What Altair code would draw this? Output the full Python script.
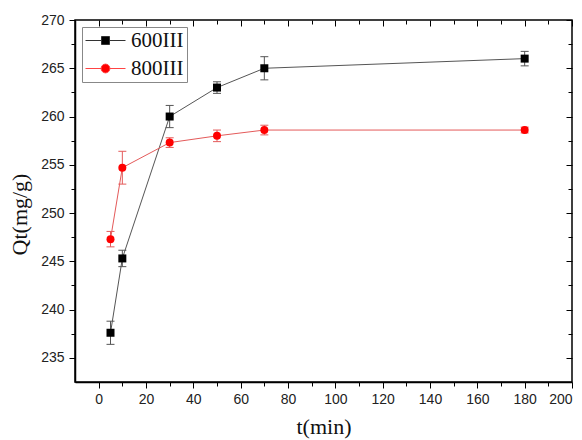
import altair as alt
import pandas as pd

series_names = ["600III", "800III"]
t_values = [5, 10, 30, 50, 70, 180]
qt_600 = [237.6, 245.3, 260.0, 263.0, 265.0, 266.0]
err_600 = [1.2, 0.85, 1.15, 0.6, 1.2, 0.75]
qt_800 = [247.3, 254.7, 257.3, 258.0, 258.6, 258.6]
err_800 = [0.8, 1.7, 0.5, 0.6, 0.5, 0.3]

x_major = [0, 20, 40, 60, 80, 100, 120, 140, 160, 180, 200]
x_minor = [10, 30, 50, 70, 90, 110, 130, 150, 170, 190]
y_major = [235, 240, 245, 250, 255, 260, 265, 270]
y_minor = [237.5, 242.5, 247.5, 252.5, 257.5, 262.5, 267.5]

rows = []
for name, qs, es in [(series_names[0], qt_600, err_600), (series_names[1], qt_800, err_800)]:
    for t, q, e in zip(t_values, qs, es):
        rows.append({"series": name, "t": t, "qt": q, "lo": q - e, "hi": q + e})
df = pd.DataFrame(rows)

xs = alt.Scale(domain=[-10, 200], nice=False, zero=False)
ys = alt.Scale(domain=[232.5, 270], nice=False, zero=False)
line_colors = alt.Scale(domain=series_names, range=["#555555", "#e45a5a"])
point_colors = alt.Scale(domain=series_names, range=["#000000", "#ff0000"])

sans = "Liberation Sans"
serif = "Liberation Serif"

def blank(orient, values, size, offset=0, domain=False):
    return alt.Axis(orient=orient, values=values, tickSize=size, offset=offset,
                    labels=False, title=None, domain=domain, grid=False,
                    tickColor="#000000", tickWidth=1)

base = alt.Chart(df)

lines = base.mark_line(strokeWidth=1).encode(
    x=alt.X("t:Q", scale=xs, axis=alt.Axis(orient="bottom", values=x_major, tickSize=6,
            grid=False, domainColor="#000000", domainWidth=1.5, tickColor="#000000",
            labelFont=sans, labelFontSize=14, labelColor="#222222", labelPadding=4,
            title="t(min)", titleFont=serif, titleFontSize=22, titleFontWeight="normal",
            titleColor="#111111", titlePadding=10)),
    y=alt.Y("qt:Q", scale=ys, axis=alt.Axis(orient="left", values=y_major, tickSize=6,
            grid=False, domainColor="#000000", domainWidth=1.5, tickColor="#000000",
            labelFont=sans, labelFontSize=14, labelColor="#222222", labelPadding=5,
            title="Qt(mg/g)", titleFont=serif, titleFontSize=22, titleFontWeight="normal",
            titleColor="#111111", titlePadding=9, titleY=194)),
    color=alt.Color("series:N", scale=line_colors, legend=None),
    detail="series:N",
)

rules = base.mark_rule(strokeWidth=1).encode(
    x=alt.X("t:Q", scale=xs, axis=blank("bottom", x_minor, 4)),
    y=alt.Y("lo:Q", scale=ys, axis=blank("left", y_minor, 4)),
    y2="hi:Q",
    color=alt.Color("series:N", scale=line_colors, legend=None),
)

caps_hi = base.mark_tick(orient="horizontal", size=8, thickness=1, opacity=1).encode(
    x=alt.X("t:Q", scale=xs, axis=blank("top", x_major, 6, offset=-6)),
    y=alt.Y("hi:Q", scale=ys, axis=blank("right", y_major, 6, offset=-6)),
    color=alt.Color("series:N", scale=line_colors, legend=None),
)

caps_lo = base.mark_tick(orient="horizontal", size=8, thickness=1, opacity=1).encode(
    x=alt.X("t:Q", scale=xs, axis=blank("top", x_minor, 4, offset=-4)),
    y=alt.Y("lo:Q", scale=ys, axis=blank("right", y_minor, 4, offset=-4)),
    color=alt.Color("series:N", scale=line_colors, legend=None),
)

points = base.mark_point(filled=True, opacity=1, size=64).encode(
    x=alt.X("t:Q", scale=xs, axis=None),
    y=alt.Y("qt:Q", scale=ys, axis=None),
    color=alt.Color("series:N", scale=point_colors, legend=None),
    shape=alt.Shape("series:N", scale=alt.Scale(domain=series_names, range=["square", "circle"]),
                    legend=None),
)

sq_path = "M-2.5,0H-0.55M0.55,0H2.5M-0.5,-0.5H0.5V0.5H-0.5Z"
ci_path = "M-2.5,0H-0.55M0.55,0H2.5M-0.55,0A0.55,0.55 0 1,0 0.55,0A0.55,0.55 0 1,0 -0.55,0Z"

legend_spec = alt.Legend(orient="none", legendX=7, legendY=7, title=None,
                         strokeColor="#888888", padding=3, symbolSize=256,
                         symbolStrokeWidth=1,
                         symbolFillColor=alt.ExprRef("datum.value === '600III' ? '#000000' : '#ff0000'"),
                         symbolStrokeColor=alt.ExprRef("datum.value === '600III' ? '#333333' : '#ff4444'"),
                         symbolOffset=10, labelOffset=15,
                         labelFont=serif, labelFontSize=21, labelColor="#111111",
                         rowPadding=6, fillColor="#ffffff")

legend_layer = base.transform_filter("datum.t < 0").mark_point(size=256, opacity=1, filled=True).encode(
    x=alt.X("t:Q", scale=xs, axis=None),
    y=alt.Y("qt:Q", scale=ys, axis=None),
    fill=alt.Fill("series:N", scale=alt.Scale(domain=series_names, range=["#000000", "#ff0000"]),
                  legend=None),
    shape=alt.Shape("series:N", scale=alt.Scale(domain=series_names, range=[sq_path, ci_path]),
                    legend=legend_spec),
)

chart = alt.layer(lines, rules, caps_hi, caps_lo, points, legend_layer).resolve_axis(
    x="independent", y="independent"
).resolve_scale(
    shape="independent", color="independent"
).properties(
    width=497, height=362, autosize="none",
    padding={"left": 75, "top": 20, "right": 10, "bottom": 58},
    background="#ffffff",
).configure_view(stroke="#000000", strokeWidth=1.5)

chart.save("out.html", embed_options={"renderer": "svg", "actions": False})
